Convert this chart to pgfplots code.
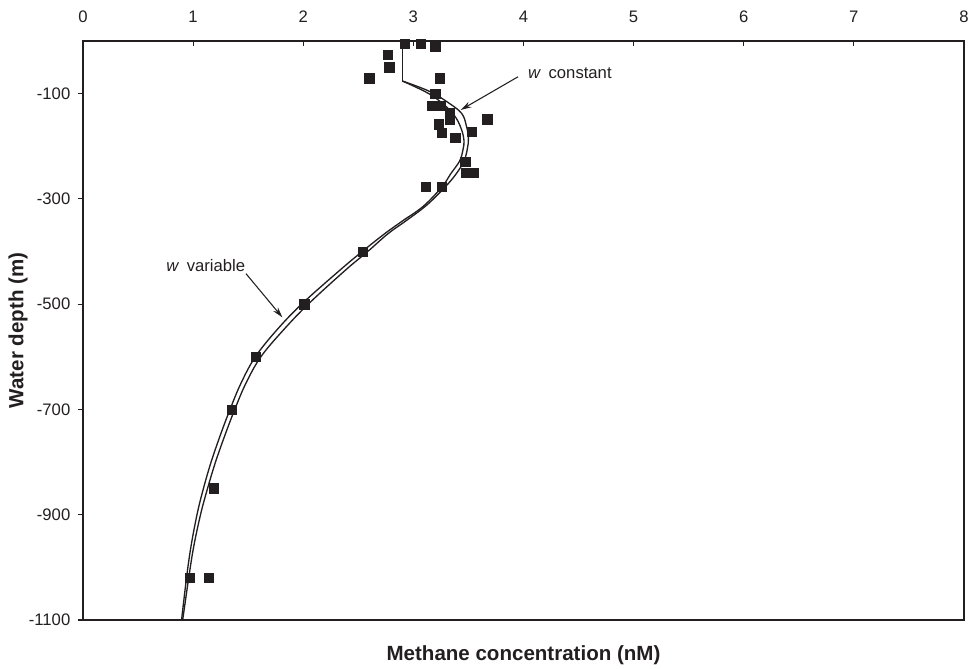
\documentclass[border=0pt]{standalone}
\usepackage{fontspec}
\setmainfont{Liberation Sans}
\usepackage{pgfplots}
\pgfplotsset{compat=1.18}
\usetikzlibrary{arrows.meta}
\definecolor{ink}{RGB}{35,31,32}

% measured methane profile
\pgfplotstableread{
x     y
2.92  -5
3.07  -5
3.20  -10
2.77  -26
2.78  -50
2.60  -71
3.24  -71
3.20  -100
3.17  -123
3.25  -123
3.33  -136
3.33  -149
3.67  -149
3.23  -158
3.26  -174
3.38  -184
3.53  -173
3.47  -230
3.48  -250
3.55  -250
3.11  -277
3.26  -277
2.54  -400
2.01  -500
1.57  -600
1.35  -700
1.19  -850
0.97  -1020
1.14  -1020
}\obs

% model, w constant
\pgfplotstableread{
x      y
2.90   -76
3.15   -96
3.33   -119
3.44   -138
3.48   -160
3.50   -184
3.49   -205
3.46   -228
3.39   -252
3.29   -277
3.12   -312
2.93   -342
2.77   -366
2.585  -400
2.385  -435
2.05   -499
1.82   -549
1.615  -600
1.48   -650
1.378  -700
1.287  -750
1.20   -802
1.127  -853
1.067  -900
1.005  -961
0.96   -1020
0.905  -1100
}\wconst

% model, w variable
\pgfplotstableread{
x      y
2.90   -76
3.14   -100
3.30   -125
3.39   -147
3.44   -170
3.46   -190
3.45   -207
3.42   -228
3.34   -252
3.26   -277
3.09   -314
2.90   -342
2.74   -366
2.535  -400
2.335  -435
1.99   -499
1.76   -549
1.565  -600
1.435  -650
1.335  -700
1.245  -750
1.16   -802
1.09   -853
1.035  -900
0.98   -961
0.94   -1020
0.895  -1100
}\wvar

\begin{document}
\begin{tikzpicture}
\begin{axis}[
    scale only axis,
    width=660.75pt, height=434.25pt,
    xmin=0, xmax=8,
    ymin=-1100, ymax=0,
    xtick={0,1,2,3,4,5,6,7,8},
    ytick={-1100,-900,-700,-500,-300,-100},
    xtick pos=upper, xticklabel pos=upper,
    ytick pos=left,
    xtick align=inside, ytick align=outside,
    major tick length=4pt,
    axis line style={ink, line width=1pt},
    tick style={ink, line width=0.8pt},
    every tick label/.append style={font=\fontsize{12.5}{14}\selectfont, text=ink},
    /pgf/number format/assume math mode=true,
    /pgf/number format/1000 sep={},
    xticklabel style={yshift=10pt},
    yticklabel style={xshift=-2pt},
    xlabel={Methane concentration (nM)},
    ylabel={Water depth (m)},
    label style={font=\fontsize{15.4}{18}\selectfont\bfseries, text=ink},
    xlabel style={at={(axis description cs:0.5,0)}, anchor=base, yshift=-30pt},
    ylabel style={at={(axis description cs:-0.0738,0.5)}, anchor=center},
]
\addplot[ink, line width=1pt, no markers] coordinates {(2.90,0) (2.90,-76)};
\addplot[ink, line width=1pt, no markers, smooth, tension=0.6] table {\wconst};
\addplot[ink, line width=1pt, no markers, smooth, tension=0.6] table {\wvar};
\addplot[only marks, mark=square*, mark size=3.5pt, mark options={fill=ink, draw=ink}] table {\obs};

\node[anchor=base west, font=\fontsize{12.5}{14}\selectfont, text=ink]
    at (axis cs:4.0,-71) {\textit{w}\hspace{0.45em}constant};
\draw[ink, line width=0.8pt, -{Stealth[length=8pt,width=4.5pt]}]
    (axis cs:3.95,-68) -- (axis cs:3.43,-131);
\node[anchor=base west, font=\fontsize{12.5}{14}\selectfont, text=ink]
    at (axis cs:0.714,-437) {\textit{w}\hspace{0.45em}variable};
\draw[ink, line width=0.8pt, -{Stealth[length=8pt,width=4.5pt]}]
    (axis cs:1.48,-442) -- (axis cs:1.81,-525);
\end{axis}
\path (-62.25pt,-33pt) rectangle (668.25pt,465pt);
\end{tikzpicture}
\end{document}
